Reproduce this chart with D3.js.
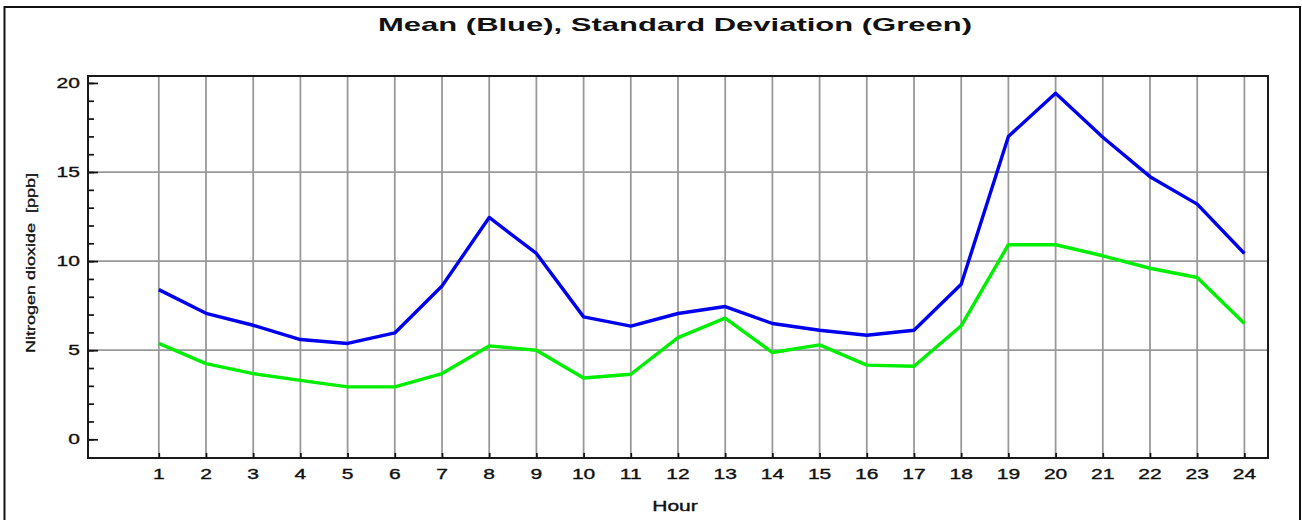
<!DOCTYPE html>
<html>
<head>
<meta charset="utf-8">
<script src="https://cdn.jsdelivr.net/npm/d3@7"></script>
<style>
  html, body { margin: 0; padding: 0; background: #fff; }
  svg { display: block; }
  text { font-family: "Liberation Sans", Arial, sans-serif; fill: #111; }
</style>
</head>
<body>
<svg id="chart" width="1302" height="520"></svg>
<script>
// Hourly nitrogen dioxide statistics
const hours = d3.range(1, 25);
const meanValues = [8.4, 7.07, 6.4, 5.6, 5.38, 5.97, 8.6, 12.45, 10.43, 6.87, 6.35, 7.06,
                    7.45, 6.5, 6.12, 5.84, 6.12, 8.7, 17.0, 19.42, 16.95, 14.74, 13.2, 10.43];
const sdValues   = [5.38, 4.25, 3.69, 3.31, 2.94, 2.94, 3.69, 5.24, 5.0, 3.44, 3.65, 5.71,
                    6.8, 4.87, 5.3, 4.16, 4.1, 6.37, 10.92, 10.92, 10.3, 9.6, 9.08, 6.5];
const yMajorTicks = [0, 5, 10, 15, 20];
const yGridValues = [5, 10, 15];

const titleText = "Mean (Blue), Standard Deviation (Green)";
const xTitle = "Hour";
const yTitle = "Nitrogen dioxide\u00a0\u00a0[ppb]";

const svg = d3.select("#chart");
const plot = { left: 88, top: 76, right: 1268, bottom: 458 };

const x = d3.scaleLinear().domain([-0.5, 24.5]).range([plot.left, plot.right]);
const y = d3.scaleLinear().domain([-1.05, 20.39]).range([plot.bottom, plot.top]);

// widen glyphs horizontally by factor k
function stretch(sel, k) {
  sel.each(function () {
    const w = this.getComputedTextLength();
    d3.select(this).attr("textLength", w * k).attr("lengthAdjust", "spacingAndGlyphs");
  });
}

// outer frame
svg.append("rect")
  .attr("x", 4.5).attr("y", 7).attr("width", 1295.5).attr("height", 530)
  .attr("fill", "none").attr("stroke", "#111").attr("stroke-width", 2);

// title
svg.append("text")
  .attr("x", 675).attr("y", 31)
  .attr("text-anchor", "middle")
  .attr("font-size", 19).attr("font-weight", "bold")
  .text(titleText)
  .attr("textLength", 594).attr("lengthAdjust", "spacingAndGlyphs");

// grid
const grid = svg.append("g").attr("stroke", "#999").attr("stroke-width", 1.8);
grid.selectAll("line.v").data(hours).join("line")
  .attr("x1", d => x(d)).attr("x2", d => x(d))
  .attr("y1", plot.top).attr("y2", plot.bottom);
grid.selectAll("line.h").data(yGridValues).join("line")
  .attr("x1", plot.left).attr("x2", plot.right)
  .attr("y1", d => y(d)).attr("y2", d => y(d));

// y axis: inward ticks, minor at every unit
const yAxis = svg.append("g").attr("transform", `translate(${plot.left},0)`);
yAxis.call(d3.axisRight(y).tickValues(d3.range(0, 21)).tickSize(6).tickFormat(""))
  .call(g => g.select(".domain").remove())
  .call(g => g.selectAll(".tick line").attr("stroke", "#111").attr("stroke-width", 1.7));
yAxis.append("g")
  .call(d3.axisRight(y).tickValues(yMajorTicks).tickSize(10).tickFormat(""))
  .call(g => g.select(".domain").remove())
  .call(g => g.selectAll(".tick line").attr("stroke", "#111").attr("stroke-width", 1.7));

svg.append("g").selectAll("text").data(yMajorTicks).join("text")
  .attr("x", 80).attr("y", d => y(d) + 5)
  .attr("text-anchor", "end")
  .attr("font-size", 14)
  .attr("stroke", "#111").attr("stroke-width", 0.35)
  .text(d => d)
  .call(stretch, 1.5);

// x axis: short inward ticks
const xAxis = svg.append("g").attr("transform", `translate(0,${plot.bottom})`);
xAxis.call(d3.axisTop(x).tickValues(hours).tickSize(5).tickFormat(""))
  .call(g => g.select(".domain").remove())
  .call(g => g.selectAll(".tick line").attr("stroke", "#111").attr("stroke-width", 1.7));

svg.append("g").selectAll("text").data(hours).join("text")
  .attr("x", d => x(d)).attr("y", 479)
  .attr("text-anchor", "middle")
  .attr("font-size", 14)
  .attr("stroke", "#111").attr("stroke-width", 0.35)
  .text(d => d)
  .call(stretch, 1.5);

// plot frame
svg.append("rect")
  .attr("x", plot.left).attr("y", plot.top)
  .attr("width", plot.right - plot.left).attr("height", plot.bottom - plot.top)
  .attr("fill", "none").attr("stroke", "#1a1a1a").attr("stroke-width", 2);

// axis titles
svg.append("text")
  .attr("x", 675).attr("y", 511)
  .attr("text-anchor", "middle")
  .attr("font-size", 14)
  .attr("stroke", "#111").attr("stroke-width", 0.35)
  .text(xTitle)
  .call(stretch, 1.5);

svg.append("text")
  .attr("transform", "translate(35,263) rotate(-90)")
  .attr("text-anchor", "middle")
  .attr("font-size", 13)
  .attr("stroke", "#111").attr("stroke-width", 0.3)
  .text(yTitle)
  .attr("textLength", 180).attr("lengthAdjust", "spacingAndGlyphs");

// series
const line = d3.line().x((d, i) => x(hours[i])).y(d => y(d));
svg.append("path").datum(sdValues)
  .attr("d", line).attr("fill", "none")
  .attr("stroke", "#00ee00").attr("stroke-width", 3.4).attr("stroke-linejoin", "round");
svg.append("path").datum(meanValues)
  .attr("d", line).attr("fill", "none")
  .attr("stroke", "#0000ee").attr("stroke-width", 3.4).attr("stroke-linejoin", "round");
</script>
</body>
</html>
